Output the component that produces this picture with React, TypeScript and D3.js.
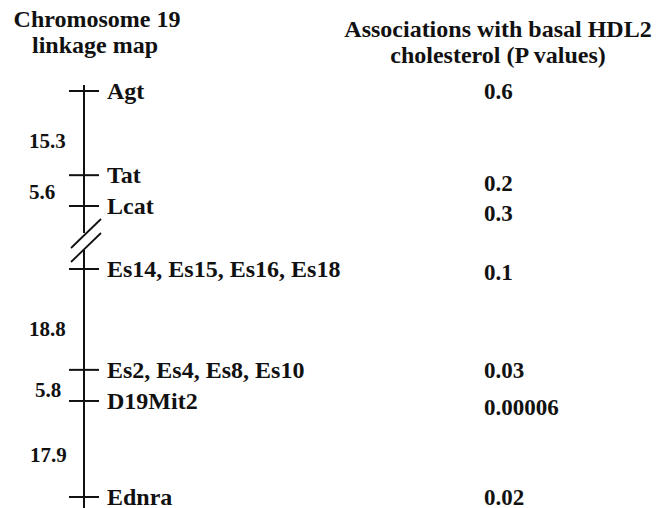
import React from "react";
import * as d3 from "d3";

// ---- data ----
const upperMarkers = ["Agt", "Tat", "Lcat"];
const upperPositions = [0, 15.3, 20.9]; // cM from Agt
const lowerMarkers = ["Es14, Es15, Es16, Es18", "Es2, Es4, Es8, Es10", "D19Mit2", "Ednra"];
const lowerPositions = [0, 18.8, 24.6, 42.5]; // cM from Es14 cluster
const intervalLabels = ["15.3", "5.6", "18.8", "5.8", "17.9"];
const pValues = ["0.6", "0.2", "0.3", "0.1", "0.03", "0.00006", "0.02"];

// ---- layout ----
const W = 662;
const H = 508;
const FONT = "Liberation Serif, Times New Roman, Times, serif";
const lineX = 84;
const pX = 484;
const pNudge = [0, 8, 7, 3, 1, 6, 0];
const intervalNudge = [8, 1, 10, 5, 6];
const intervalX = [29, 29, 29, 35, 30];

export default function App() {
  const yUpper = d3.scaleLinear().domain([0, 20.9]).range([91, 206]);
  const yLower = d3.scaleLinear().domain([0, 42.5]).range([269, 497]);

  const markers = [
    ...upperMarkers.map((name, i) => ({ name, y: yUpper(upperPositions[i]) })),
    ...lowerMarkers.map((name, i) => ({ name, y: yLower(lowerPositions[i]) })),
  ];

  const pairs = [
    [0, 1],
    [1, 2],
    [3, 4],
    [4, 5],
    [5, 6],
  ];
  const intervals = pairs.map(([a, b], i) => ({
    label: intervalLabels[i],
    y: (markers[a].y + markers[b].y) / 2 + intervalNudge[i],
  }));

  const ts = (size: number): React.CSSProperties => ({
    fontFamily: FONT,
    fontWeight: 700,
    fontSize: size,
    fill: "#111",
  });

  return (
    <svg
      width={W}
      height={H}
      viewBox={`0 0 ${W} ${H}`}
      style={{ position: "absolute", left: 0, top: 0, display: "block", background: "#fff" }}
    >
      <rect width={W} height={H} fill="#fff" />
      {/* titles */}
      <text x={97} y={27} textAnchor="middle" style={ts(24)}>
        Chromosome 19
      </text>
      <text x={95} y={53} textAnchor="middle" style={ts(24)}>
        linkage map
      </text>
      <text x={498} y={37} textAnchor="middle" style={ts(24)}>
        Associations with basal HDL2
      </text>
      <text x={498} y={63} textAnchor="middle" style={ts(24)}>
        cholesterol (P values)
      </text>

      {/* chromosome line with break */}
      <line x1={lineX} x2={lineX} y1={85} y2={233} stroke="#111" strokeWidth={2} />
      <line x1={lineX} x2={lineX} y1={250} y2={H} stroke="#111" strokeWidth={2} />
      <line x1={101} y1={219} x2={71} y2={248} stroke="#111" strokeWidth={1.8} />
      <line x1={101} y1={233} x2={71} y2={262} stroke="#111" strokeWidth={1.8} />

      {markers.map((m, i) => (
        <g key={m.name}>
          <line x1={69} x2={99} y1={m.y} y2={m.y} stroke="#111" strokeWidth={2} />
          <text x={107} y={m.y} dy="0.33em" style={ts(24)}>
            {m.name}
          </text>
          <text x={pX} y={m.y + pNudge[i]} dy="0.33em" style={ts(23)}>
            {pValues[i]}
          </text>
        </g>
      ))}

      {intervals.map((iv, i) => (
        <text key={iv.label + i} x={intervalX[i]} y={iv.y} dy="0.33em" style={ts(21)}>
          {iv.label}
        </text>
      ))}
    </svg>
  );
}
